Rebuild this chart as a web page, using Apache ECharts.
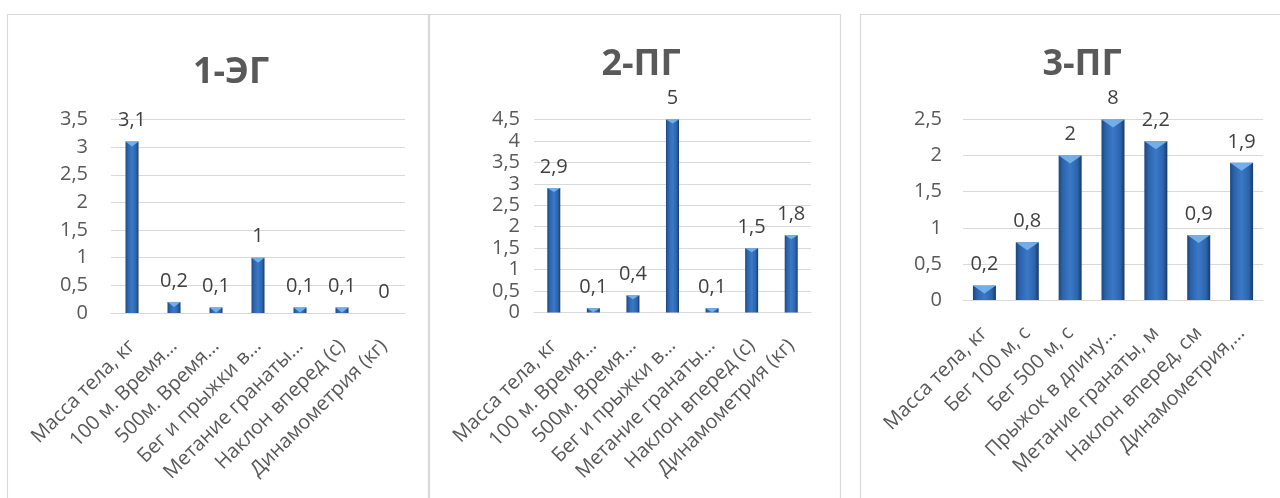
<!DOCTYPE html>
<html>
<head>
<meta charset="utf-8">
<script src="https://cdn.jsdelivr.net/npm/echarts@6/dist/echarts.min.js"></script>
<style>
  html, body { margin: 0; padding: 0; background: #ffffff; }
  #chart { width: 1280px; height: 498px; }
</style>
</head>
<body>
<div id="chart"></div>
<script>
// Названия групп
const groupTitles = ['1-ЭГ', '2-ПГ', '3-ПГ'];

// Показатели (подписи оси X)
const categoriesEG1 = ['Масса тела, кг', '100 м. Время…', '500м. Время…', 'Бег и прыжки в…', 'Метание гранаты…', 'Наклон вперед (с)', 'Динамометрия (кг)'];
const categoriesPG2 = ['Масса тела, кг', '100 м. Время…', '500м. Время…', 'Бег и прыжки в…', 'Метание гранаты…', 'Наклон вперед (с)', 'Динамометрия (кг)'];
const categoriesPG3 = ['Масса тела, кг', 'Бег 100 м, с', 'Бег 500 м, с', 'Прыжок в длину…', 'Метание гранаты, м', 'Наклон вперед, см', 'Динамометрия,…'];

// Значения по группам
const valuesEG1 = [3.1, 0.2, 0.1, 1, 0.1, 0.1, 0];
const valuesPG2 = [2.9, 0.1, 0.4, 5, 0.1, 1.5, 1.8];
const valuesPG3 = [0.2, 0.8, 2, 8, 2.2, 0.9, 1.9];

// Шкалы оси Y
const yMaxEG1 = 3.5, yMaxPG2 = 4.5, yMaxPG3 = 2.5;
const yStep = 0.5;

const panels = [
  { title: groupTitles[0], cats: categoriesEG1, vals: valuesEG1, yMax: yMaxEG1 },
  { title: groupTitles[1], cats: categoriesPG2, vals: valuesPG2, yMax: yMaxPG2 },
  { title: groupTitles[2], cats: categoriesPG3, vals: valuesPG3, yMax: yMaxPG3 }
];

// Размещение панелей
const layout = [
  { frame: [7.5, 14.5, 421, 600], grid: { left: 111, top: 119.5, width: 294, height: 193.5 }, titleX: 226, titleTop: 50, barW: 13, capH: 5, yMargin: 23 },
  { frame: [429.5, 14.5, 411, 600], grid: { left: 534, top: 119.5, width: 277, height: 193 }, titleX: 636, titleTop: 42, barW: 13, capH: 4, yMargin: 14 },
  { frame: [860.5, 14.5, 440, 600], grid: { left: 963, top: 119.5, width: 300, height: 180.5 }, titleX: 1077, titleTop: 42, barW: 23, capH: 8, yMargin: 21 }
];

const FONT = 'Open Sans';
const comma = v => String(v).replace('.', ',');

const barFill = {
  type: 'linear', x: 0, y: 0, x2: 1, y2: 0,
  colorStops: [
    { offset: 0, color: '#1b4680' },
    { offset: 0.18, color: '#2c64ab' },
    { offset: 0.5, color: '#3a79c8' },
    { offset: 0.82, color: '#2c64ab' },
    { offset: 1, color: '#17396a' }
  ]
};

const option = {
  animation: false,
  backgroundColor: '#ffffff',
  textStyle: { fontFamily: FONT },
  title: panels.map((p, i) => ({
    text: p.title,
    left: layout[i].titleX,
    top: layout[i].titleTop,
    textAlign: 'center',
    textStyle: { fontFamily: FONT, fontSize: 36, fontWeight: 'bold', color: '#595959' }
  })),
  graphic: layout.map(l => ({
    type: 'rect',
    silent: true,
    shape: { x: l.frame[0], y: l.frame[1], width: l.frame[2], height: l.frame[3] },
    style: { fill: 'none', stroke: '#d9d9d9', lineWidth: 1.2 }
  })),
  grid: layout.map(l => Object.assign({ containLabel: false }, l.grid)),
  xAxis: panels.map((p, i) => ({
    type: 'category',
    gridIndex: i,
    data: p.cats,
    axisLine: { lineStyle: { color: '#d9d9d9', width: 1 } },
    axisTick: { show: false },
    axisLabel: {
      interval: 0, rotate: 45, margin: 30,
      fontFamily: FONT, fontSize: 20, color: '#595959'
    }
  })),
  yAxis: panels.map((p, i) => ({
    type: 'value',
    gridIndex: i,
    min: 0, max: p.yMax, interval: yStep,
    axisLine: { show: false },
    axisTick: { show: false },
    splitLine: { lineStyle: { color: '#d9d9d9', width: 1 } },
    axisLabel: {
      margin: layout[i].yMargin,
      fontFamily: FONT, fontSize: 20, color: '#595959',
      formatter: v => comma(v)
    }
  })),
  series: []
};

panels.forEach((p, i) => {
  option.series.push({
    type: 'bar',
    xAxisIndex: i, yAxisIndex: i,
    data: p.vals,
    barWidth: layout[i].barW,
    clip: true,
    itemStyle: { color: barFill },
    label: {
      show: true, position: 'top', distance: 11,
      fontFamily: FONT, fontSize: 20, color: '#404040',
      formatter: d => comma(d.value)
    },
    z: 2
  });
  // светлая фаска у верхнего края столбика
  option.series.push({
    type: 'pictorialBar',
    xAxisIndex: i, yAxisIndex: i,
    data: p.vals.map(v => (v > 0 ? Math.min(v, p.yMax) : '-')),
    symbol: 'path://M0,0 L10,0 L5,6 Z',
    symbolSize: [layout[i].barW, layout[i].capH],
    symbolPosition: 'end',
    itemStyle: { color: '#79b6ee', opacity: 0.9 },
    silent: true,
    z: 3
  });
});

const chart = echarts.init(document.getElementById('chart'), null, { renderer: 'canvas' });
chart.setOption(option);
</script>
</body>
</html>
